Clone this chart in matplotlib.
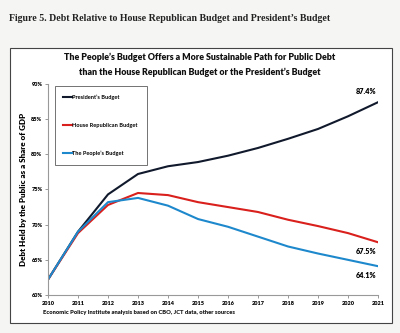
import matplotlib.pyplot as plt
from matplotlib.patches import Rectangle

# data (debt held by public, % of GDP)
years = [2010, 2011, 2012, 2013, 2014, 2015, 2016, 2017, 2018, 2019, 2020, 2021]
president = [62.2, 69.0, 74.3, 77.2, 78.3, 78.9, 79.8, 80.9, 82.2, 83.6, 85.4, 87.4]
house_rep = [62.2, 68.8, 72.8, 74.5, 74.2, 73.2, 72.5, 71.8, 70.7, 69.8, 68.8, 67.5]
peoples = [62.2, 69.0, 73.2, 73.8, 72.7, 70.8, 69.7, 68.3, 66.9, 65.9, 65.0, 64.1]
yticks = [60, 65, 70, 75, 80, 85, 90]

fig = plt.figure(figsize=(4, 3.33), dpi=100)
fig.patch.set_facecolor('#f5f5f3')

fig.text(0.022, 0.945, "Figure 5. Debt Relative to House Republican Budget and President\u2019s Budget",
         family='Liberation Serif', weight='bold', fontsize=7.1, color='#222222', va='center')

# framed chart box (behind the axes)
box = Rectangle((0.025, 0.03), 0.955, 0.825, transform=fig.transFigure,
                facecolor='white', edgecolor='#444444', lw=0.8, zorder=-5)
fig.patches.append(box)

fig.text(0.5, 0.828, "The People\u2019s Budget Offers a More Sustainable Path for Public Debt",
         ha='center', va='center', family='Lato', weight='heavy', fontsize=6.4, color='#111111')
fig.text(0.5, 0.784, "than the House Republican Budget or the President\u2019s Budget",
         ha='center', va='center', family='Lato', weight='heavy', fontsize=6.4, color='#111111')

ax = fig.add_axes([0.12, 0.114, 0.825, 0.634])
ax.set_zorder(2)
ax.patch.set_alpha(0)
ax.plot(years, president, color='#111a2c', lw=1.5, label="President\u2019s Budget")
ax.plot(years, house_rep, color='#d9201c', lw=1.5, label="House Republican Budget")
ax.plot(years, peoples, color='#1e88cc', lw=1.5, label="The People\u2019s Budget")

ax.set_xlim(2010, 2021)
ax.set_ylim(60, 90)
ax.set_xticks(years)
ax.set_xticklabels([str(y) for y in years])
ax.set_yticks(yticks)
ax.set_yticklabels(['%d%%' % v for v in yticks])
for lab in ax.get_xticklabels() + ax.get_yticklabels():
    lab.set_fontsize(4)
    lab.set_fontweight('heavy')
    lab.set_family('Lato')
ax.tick_params(length=2, width=0.6, color='#888888', pad=2)
for s in ['top', 'right']:
    ax.spines[s].set_visible(False)
for s in ['left', 'bottom']:
    ax.spines[s].set_color('#999999')
    ax.spines[s].set_linewidth(0.8)

ax.set_ylabel('Debt Held by the Public as a Share of GDP', fontsize=5.8,
              weight='heavy', family='Lato', labelpad=3)

ax.annotate('87.4%', (years[-1], president[-1]), xytext=(-1, 5), textcoords='offset points',
            ha='right', va='bottom', fontsize=5.2, weight='heavy', family='Lato')
ax.annotate('67.5%', (years[-1], house_rep[-1]), xytext=(-1, -4), textcoords='offset points',
            ha='right', va='top', fontsize=5.2, weight='heavy', family='Lato')
ax.annotate('64.1%', (years[-1], peoples[-1]), xytext=(-1, -4), textcoords='offset points',
            ha='right', va='top', fontsize=5.2, weight='heavy', family='Lato')

leg = ax.legend(loc='upper left', bbox_to_anchor=(0.012, 1.003), frameon=True,
                prop={'family': 'Lato', 'weight': 'bold', 'size': 4.1},
                fancybox=False, edgecolor='#333333', handlelength=1.5, labelspacing=4.0,
                borderpad=1.5, handletextpad=0.1)
leg.get_frame().set_linewidth(0.6)

fig.text(0.108, 0.063, 'Economic Policy Institute analysis based on CBO, JCT data, other sources',
         fontsize=4.2, weight='heavy', family='Lato', color='#222222', va='center')

fig.savefig('out.png', dpi=100, facecolor=fig.get_facecolor())
